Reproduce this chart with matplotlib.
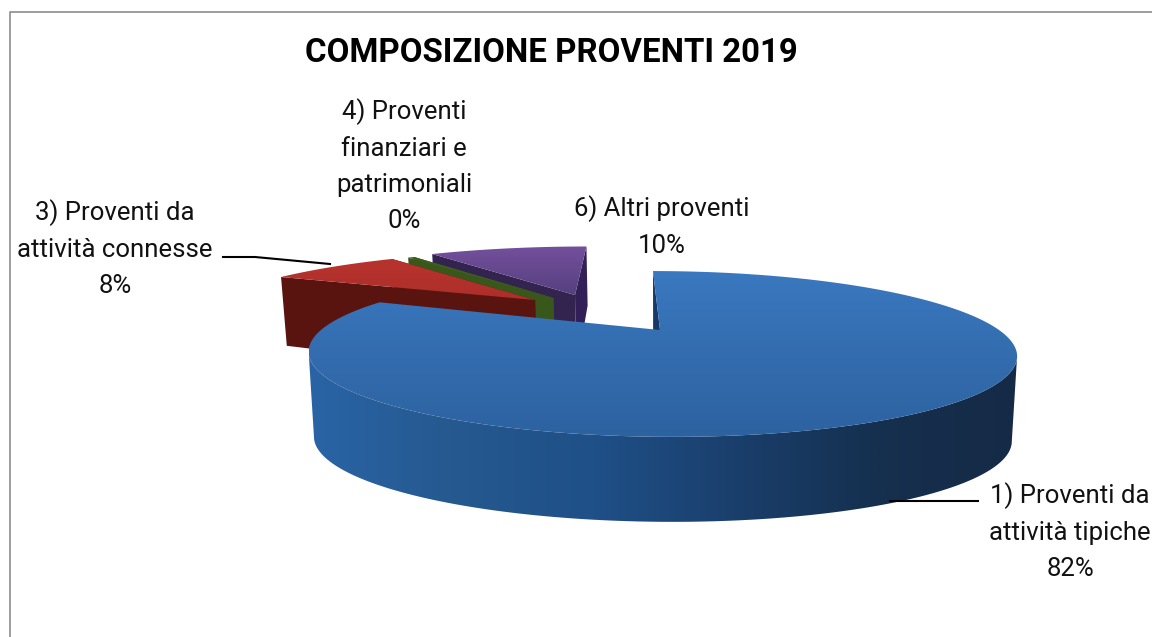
import numpy as np
import matplotlib
matplotlib.use("Agg")
import matplotlib.pyplot as plt
from matplotlib.patches import Polygon
from matplotlib.colors import LinearSegmentedColormap

plt.rcParams['font.family'] = ['Roboto', 'Liberation Sans', 'DejaVu Sans']

title = "COMPOSIZIONE PROVENTI 2019"
labels = ["1) Proventi da\nattività tipiche\n82%",
          "3) Proventi da\nattività connesse\n8%",
          "4) Proventi\nfinanziari e\npatrimoniali\n0%",
          "6) Altri proventi\n10%"]
values = [82, 8, 0.4, 10]

# pie offsets on the disc (exploded slices)
offset_u = [0, -0.404, -0.345, -0.275]
offset_v = [0, 0.446, 0.48, 0.531]
scale_u = [1, 1.065, 1.065, 1.08]
scale_v = [1, 1.05, 1.05, 1.08]


def project(u, v):
    # disc coordinates to pixels, perspective like the excel 3d pie
    d = 1 + 0.289 * v
    return (660 + 339 * u + 181.7 * v) / d, (330 + 19.4 * v) / d


def drop(px, py, u, v):
    # same point on the underside of the pie
    h = 85 / (1 + 0.27 * np.maximum(v, 0))
    return 664 + (px - 664) * 0.985, py + h


def gradient_fill(ax, poly, colors, horizontal=True, zorder=1):
    poly = np.asarray(poly)
    cmap = LinearSegmentedColormap.from_list("g", colors)
    grad = np.linspace(0, 1, 256)
    grad = grad.reshape(1, -1) if horizontal else grad.reshape(-1, 1)
    ext = [poly[:, 0].min(), poly[:, 0].max(), poly[:, 1].max(), poly[:, 1].min()]
    im = ax.imshow(grad, cmap=cmap, extent=ext, aspect='auto', zorder=zorder, interpolation='bilinear')
    im.set_clip_path(Polygon(poly, closed=True, transform=ax.transData))


fig = plt.figure(figsize=(11.52, 6.37), dpi=100)
ax = fig.add_axes([0, 0, 1, 1])
ax.axis('off')

shares = np.array(values) / np.sum(values) * 360
ends = np.cumsum(shares)
starts = ends - shares

top_colors = [["#3a78bf", "#2d62a0"], ["#b8332e", "#ad2f2a"], ["#3f5f1e", "#3f5f1e"], ["#74509c", "#56407f"]]
wall_left = ["#14305a", "#5a1410", "#39561b", "#331f58"]
wall_right = ["#173a66", "#5a1410", "#39561b", "#33234f"]

# back slices first, the big one goes on top
z = 2
for i in [3, 2, 1, 0]:
    th = np.radians(np.linspace(starts[i], ends[i], 400))
    u = np.sin(th) * scale_u[i] + offset_u[i]
    v = np.cos(th) * scale_v[i] + offset_v[i]
    px, py = project(u, v)
    ax_, ay_ = project(offset_u[i], offset_v[i])
    bx, by = drop(px, py, u, v)
    abx, aby = drop(ax_, ay_, offset_u[i], offset_v[i])

    # the cut on the first edge
    ax.fill([px[0], ax_, abx, bx[0]], [py[0], ay_, aby, by[0]], color=wall_right[i], lw=0, zorder=z)
    z += 1
    if i > 0:
        # the cut on the last edge
        ax.fill([px[-1], ax_, abx, bx[-1]], [py[-1], ay_, aby, by[-1]], color=wall_left[i], lw=0, zorder=z)
        z += 1
    else:
        # only the front of the rim, from the far right round to the far left
        a, b = np.argmax(px), np.argmin(px)
        rim = np.vstack([np.column_stack([px[a:b + 1], py[a:b + 1]]),
                         np.column_stack([bx[a:b + 1], by[a:b + 1]])[::-1]])
        rim_colors = ["#2a64a6", "#25598f", "#1f5088", "#1a3f6c", "#15304f", "#152a46"]
        gradient_fill(ax, rim, rim_colors, True, z)
        z += 1

    face = np.vstack([np.column_stack([px, py]), [[ax_, ay_]]])
    gradient_fill(ax, face, top_colors[i], False, z)
    z += 1

# chart frame
ax.plot([10, 10, 1152], [637, 12, 12], color="#8c8c8c", lw=1.2, zorder=z)

# leader lines
ax.plot([223, 255, 330], [257, 257, 264], color="black", lw=1.5, zorder=z)
ax.plot([890, 978], [501, 501], color="black", lw=1.5, zorder=z)

ax.text(551, 53, title, ha='center', va='center', fontsize=23.8, fontweight='bold', color="black", zorder=z)
txt = dict(ha='center', va='center', fontsize=18.5, color="#111111", linespacing=1.63, zorder=z)
ax.text(1070, 532, labels[0], **txt)
ax.text(115, 249, labels[1], **txt)
ax.text(404, 166, labels[2], **txt)
ax.text(662, 227, labels[3], **txt)

ax.set_xlim(0, 1152)
ax.set_ylim(637, 0)
fig.savefig("out.png", dpi=100, facecolor="white")
